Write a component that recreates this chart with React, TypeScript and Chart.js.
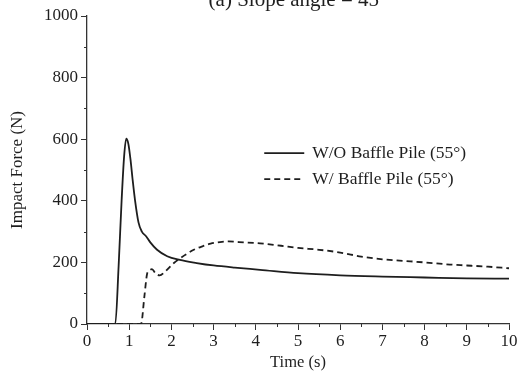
import React, { useEffect, useRef } from "react";
import { Chart, registerables } from "chart.js";

Chart.register(...registerables);

const titleText = "(a) Slope angle = 45°";
const xTitle = "Time (s)";
const yTitle = "Impact Force (N)";
const seriesNames = ["W/O Baffle Pile (55°)", "W/ Baffle Pile (55°)"];

const timeWO = [0, 0.5, 0.67, 0.75, 0.82, 0.88, 0.93, 0.98, 1.03, 1.08, 1.14, 1.22, 1.3, 1.4, 1.5, 1.66, 1.9, 2.2, 2.6, 3.0, 3.5, 4.1, 5.0, 6.0, 7.0, 8.0, 9.0, 10];
const forceWO = [0, 0, 0, 190, 400, 545, 602, 585, 535, 470, 400, 330, 300, 285, 265, 241, 220, 208, 198, 190, 183, 176, 165, 158, 154, 151, 148, 147];

const timeW = [0, 1.28, 1.36, 1.42, 1.47, 1.54, 1.62, 1.72, 1.85, 2.06, 2.3, 2.53, 2.75, 2.93, 3.15, 3.35, 3.6, 4.1, 4.6, 5.0, 5.5, 6.0, 6.5, 7.0, 7.5, 8.0, 8.6, 9.0, 9.5, 10];
const forceW = [0, 0, 90, 160, 172, 178, 165, 158, 170, 198, 222, 241, 253, 261, 266, 268, 266, 262, 254, 247, 241, 232, 219, 210, 205, 200, 193, 190, 186, 181];

const xMin = 0, xMax = 10, xStep = 1, xMinorStep = 0.5;
const yMin = 0, yMax = 1000, yStep = 200, yMinorStep = 100;

const serif = "'Liberation Serif', 'Times New Roman', serif";
const ink = "#1e1e1e";
const axisColor = "#333";

const extrasPlugin = {
  id: "extras",
  afterDraw(chart: any) {
    const ctx = chart.ctx;
    const ca = chart.chartArea;
    const xs = chart.scales.x;
    const ys = chart.scales.y;
    ctx.save();
    // minor ticks
    ctx.strokeStyle = axisColor;
    ctx.lineWidth = 1;
    ctx.beginPath();
    for (let v = xMin + xMinorStep; v < xMax; v += xStep) {
      const px = Math.round(xs.getPixelForValue(v)) + 0.5;
      ctx.moveTo(px, ca.bottom);
      ctx.lineTo(px, ca.bottom + 3);
    }
    for (let v = yMin + yMinorStep; v < yMax; v += yStep) {
      const py = Math.round(ys.getPixelForValue(v)) + 0.5;
      ctx.moveTo(ca.left, py);
      ctx.lineTo(ca.left - 3, py);
    }
    ctx.stroke();

    // title (partly cut at top)
    ctx.fillStyle = ink;
    ctx.font = `21px ${serif}`;
    ctx.textAlign = "center";
    ctx.textBaseline = "alphabetic";
    ctx.fillText(titleText, (ca.left + ca.right) / 2, ca.top - 10);

    // legend
    const lx = ca.left + 0.42 * (ca.right - ca.left);
    let ly = ca.top + 0.445 * (ca.bottom - ca.top);
    ctx.font = `17.5px ${serif}`;
    ctx.textAlign = "left";
    ctx.textBaseline = "middle";
    chart.data.datasets.forEach((ds: any) => {
      ctx.strokeStyle = ds.borderColor;
      ctx.lineWidth = ds.borderWidth;
      ctx.setLineDash(ds.borderDash || []);
      ctx.beginPath();
      ctx.moveTo(lx, ly);
      ctx.lineTo(lx + 40, ly);
      ctx.stroke();
      ctx.setLineDash([]);
      ctx.fillStyle = ink;
      ctx.fillText(ds.label, lx + 48, ly);
      ly += 26;
    });
    ctx.restore();
  },
};

export default function App() {
  const ref = useRef<HTMLCanvasElement>(null);
  useEffect(() => {
    if (!ref.current) return;
    const chart = new Chart(ref.current, {
      type: "line",
      data: {
        datasets: [
          {
            label: seriesNames[0],
            data: timeWO.map((t, i) => ({ x: t, y: forceWO[i] })),
            borderColor: ink,
            borderWidth: 1.8,
            pointRadius: 0,
            cubicInterpolationMode: "monotone",
            fill: false,
          },
          {
            label: seriesNames[1],
            data: timeW.map((t, i) => ({ x: t, y: forceW[i] })),
            borderColor: ink,
            borderWidth: 1.8,
            borderDash: [6, 4],
            pointRadius: 0,
            cubicInterpolationMode: "monotone",
            fill: false,
          },
        ],
      },
      options: {
        animation: false,
        responsive: false,
        maintainAspectRatio: false,
        layout: { padding: { left: 0, top: 16, right: 21, bottom: 0 } },
        plugins: {
          legend: { display: false },
          title: { display: false },
          tooltip: { enabled: false },
        },
        scales: {
          x: {
            type: "linear",
            min: xMin,
            max: xMax,
            afterFit: (s: any) => { s.height = 57; },
            border: { display: true, color: axisColor, width: 1.3 },
            grid: { display: true, drawOnChartArea: false, drawTicks: true, tickLength: 6, color: axisColor },
            ticks: {
              stepSize: xStep,
              color: ink,
              padding: 1,
              font: { family: serif, size: 17 },
              maxRotation: 0,
              callback: (v: any) => String(v),
            },
            title: {
              display: true,
              text: xTitle,
              color: ink,
              font: { family: serif, size: 16.5 },
              padding: { top: 0, bottom: 8 },
            },
          },
          y: {
            type: "linear",
            min: yMin,
            max: yMax,
            afterFit: (s: any) => { s.width = 87; },
            border: { display: true, color: axisColor, width: 1.3 },
            grid: { display: true, drawOnChartArea: false, drawTicks: true, tickLength: 6, color: axisColor },
            ticks: {
              stepSize: yStep,
              color: ink,
              padding: 3,
              font: { family: serif, size: 17 },
              callback: (v: any) => String(v),
            },
            title: {
              display: true,
              text: yTitle,
              color: ink,
              font: { family: serif, size: 17 },
              padding: { top: 7, bottom: 0 },
            },
          },
        },
      },
      plugins: [extrasPlugin],
    });
    return () => chart.destroy();
  }, []);
  return (
    <div style={{ position: "absolute", left: 0, top: 0, width: 530, height: 381, background: "#fff" }}>
      <canvas ref={ref} width={530} height={381} style={{ display: "block", width: 530, height: 381 }} />
    </div>
  );
}
